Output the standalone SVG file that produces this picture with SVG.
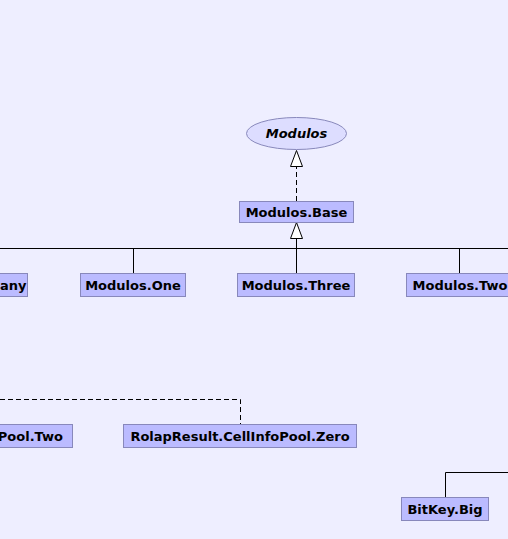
<svg xmlns="http://www.w3.org/2000/svg" width="508" height="539" viewBox="0 0 508 539">
<style>
.bg{fill:#eeeeff}
.n rect{fill:#bbbbff;stroke:#8888bb;stroke-width:1}
.n text{font-family:"DejaVu Sans",sans-serif;font-weight:bold;font-size:13px;fill:#000;text-anchor:middle;dominant-baseline:central}
.e{fill:none;stroke:#000;stroke-width:1}
.d{stroke-dasharray:5,3}
.h{fill:#fff;stroke:#000;stroke-width:1}
</style>
<rect class="bg" width="508" height="539"/>
<g id="connectors">
<path class="e d" d="M296.5,201V166"/>
<polygon class="h" points="296.5,150.5 290.5,166.5 302.5,166.5"/>
<path class="e" d="M296.5,273V238"/>
<polygon class="h" points="296.5,222.5 290.5,238.5 302.5,238.5"/>
<path class="e" d="M0,248.5H508M133.5,248V273M459.5,248V273"/>
<path class="e d" d="M0,399.5H240.5V424"/>
<path class="e" d="M445.5,497V472.5H508"/>
</g>
<g id="modulos" class="n">
<ellipse cx="296.5" cy="133.5" rx="50" ry="16" fill="#ddddff" stroke="#8888bb"/>
<text x="296.5" y="133" font-style="italic">Modulos</text>
</g>
<g id="modulos-base" class="n"><rect x="239.5" y="201.5" width="114" height="21"/><text x="296.5" y="212">Modulos.Base</text></g>
<g id="modulos-many" class="n"><rect x="-80.5" y="273.5" width="108" height="23"/><text x="-26.5" y="285">Modulos.Many</text></g>
<g id="modulos-one" class="n"><rect x="80.5" y="273.5" width="105" height="23"/><text x="133" y="285">Modulos.One</text></g>
<g id="modulos-three" class="n"><rect x="237.5" y="273.5" width="117" height="23"/><text x="296" y="285">Modulos.Three</text></g>
<g id="modulos-two" class="n"><rect x="406.5" y="273.5" width="106" height="23"/><text x="460" y="285">Modulos.Two</text></g>
<g id="pool-two" class="n"><rect x="-160.5" y="424.5" width="233" height="23"/><text x="-44" y="436">RolapResult.CellInfoPool.Two</text></g>
<g id="pool-zero" class="n"><rect x="123.5" y="424.5" width="233" height="23"/><text x="240" y="436">RolapResult.CellInfoPool.Zero</text></g>
<g id="bitkey-big" class="n"><rect x="401.5" y="497.5" width="87" height="23"/><text x="445" y="509">BitKey.Big</text></g>
</svg>
